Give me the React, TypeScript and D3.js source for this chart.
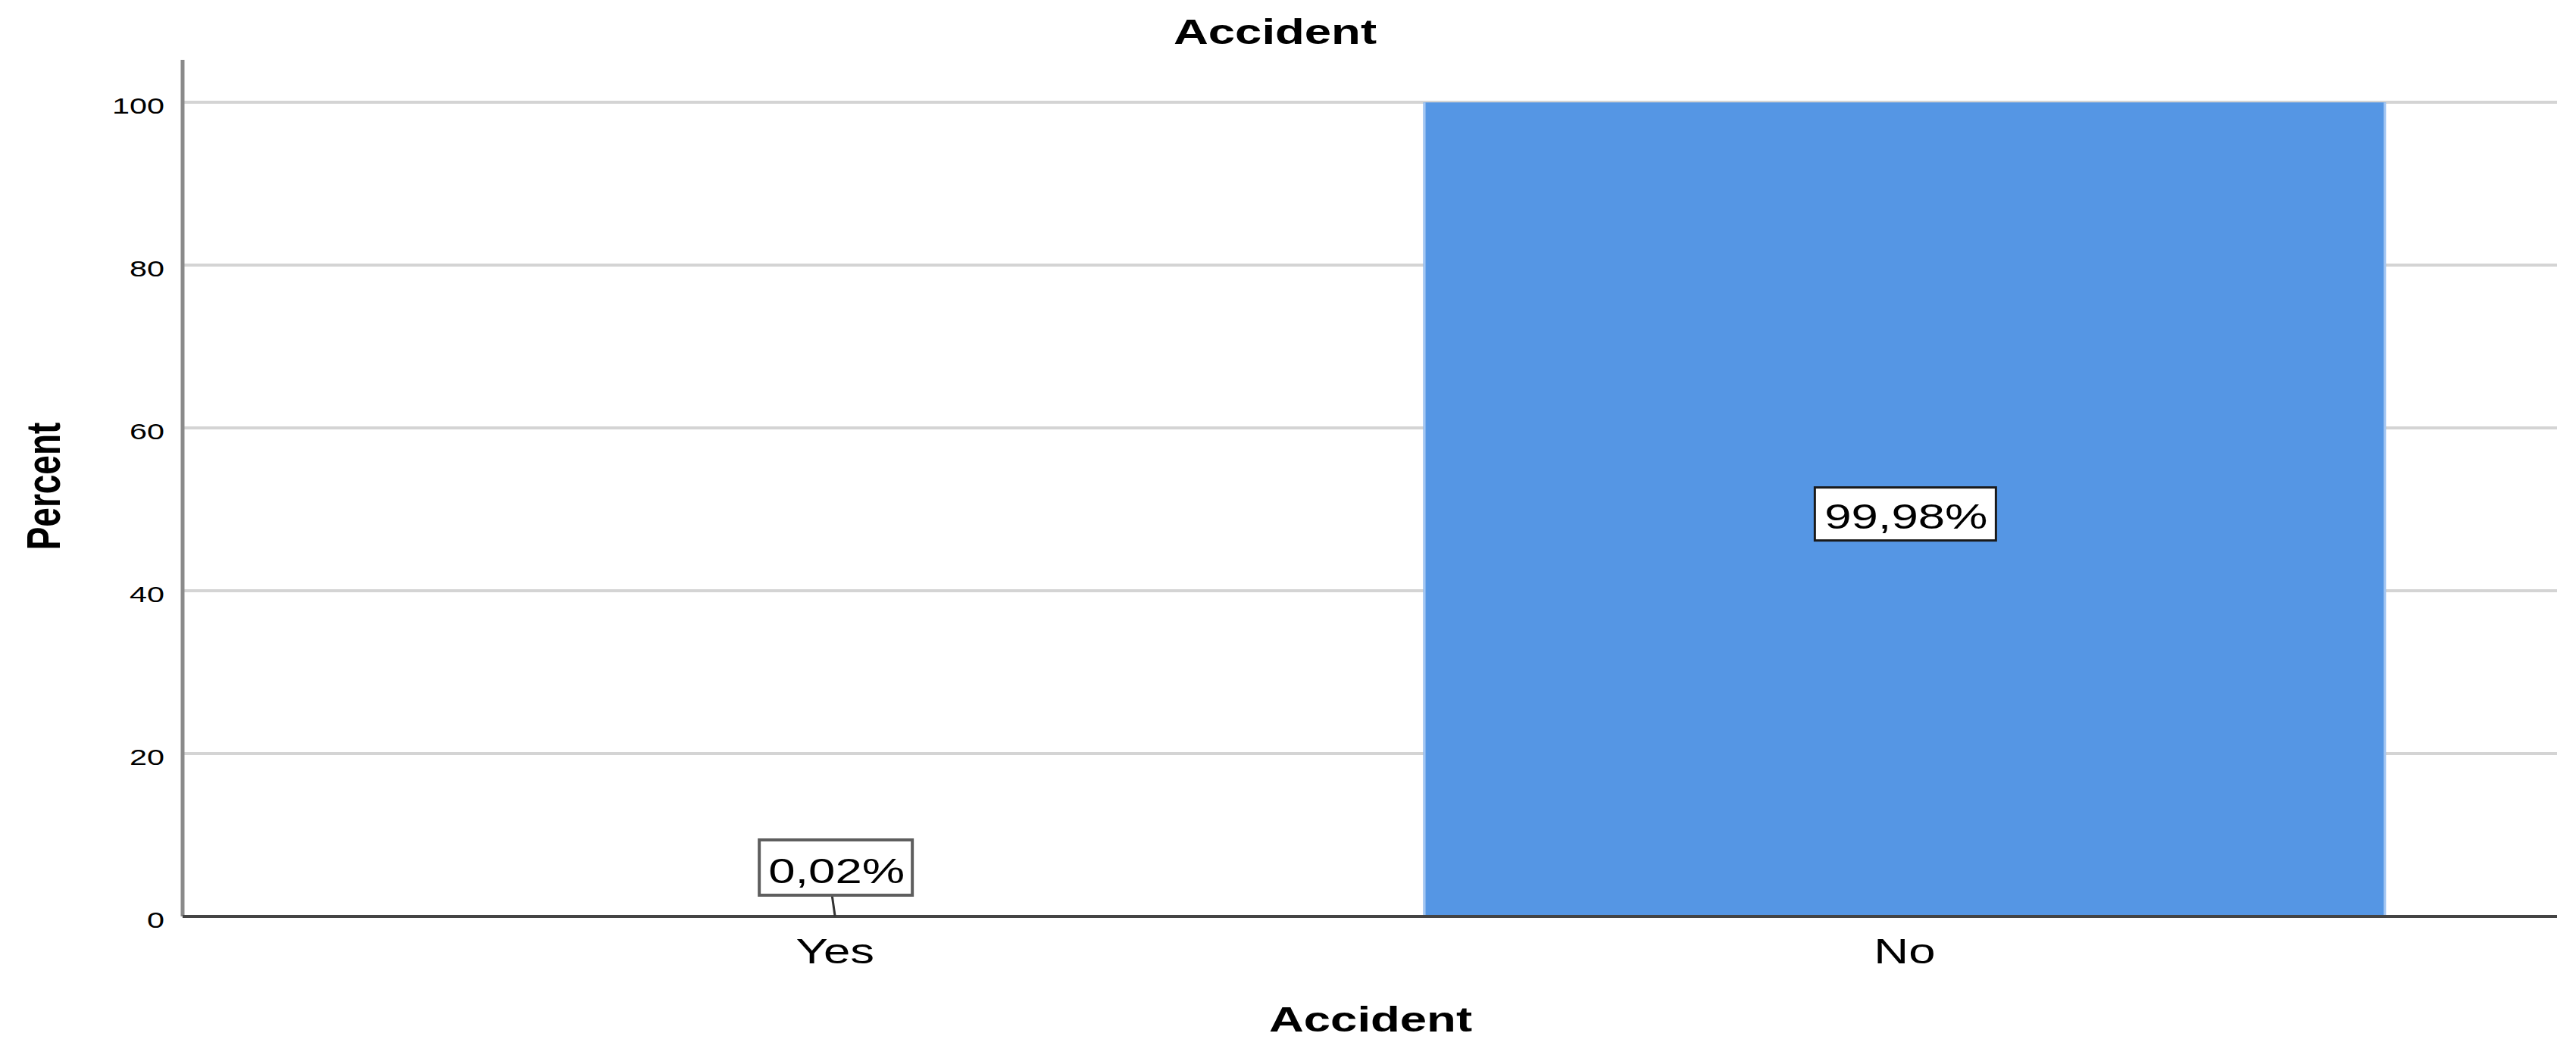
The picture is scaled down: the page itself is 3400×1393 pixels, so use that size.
import * as d3 from "d3";

const categories = ["Yes", "No"];
const percents = [0.02, 99.98];
const valueLabels = ["0,02%", "99,98%"];
const yTicks = [0, 20, 40, 60, 80, 100];
const chartTitle = "Accident";
const xTitle = "Accident";
const yTitle = "Percent";

const width = 3400;
const height = 1393;
const axisX = 241;
const axisRight = 3375;
const axisTop = 79;
const font = "'Liberation Sans', Arial, sans-serif";
// the source picture is stretched sideways, so text is too
const sx = 1.38;

const x = d3
  .scaleBand<string>()
  .domain(categories)
  .range([axisX, axisRight])
  .paddingInner(0.1)
  .paddingOuter(0.16);

const y = d3.scaleLinear().domain([0, 100]).range([1210, 135]);

const Stretched = ({ x, y, size, bold, anchor, children }: any) => (
  <text
    transform={`translate(${x},${y}) scale(${sx},1)`}
    fontSize={size}
    fontWeight={bold ? "bold" : "normal"}
    textAnchor={anchor ?? "middle"}
    fontFamily={font}
    fill="#000"
  >
    {children}
  </text>
);

export default function App() {
  const bw = x.bandwidth();
  return (
    <svg
      width={width}
      height={height}
      viewBox={`0 0 ${width} ${height}`}
      style={{ position: "absolute", left: 0, top: 0, background: "#fff" }}
    >
      <rect width={width} height={height} fill="#fff" />
      <Stretched x={1683} y={58} size={46} bold>
        {chartTitle}
      </Stretched>

      {/* grid */}
      <g stroke="#d4d4d4" strokeWidth={4}>
        {yTicks
          .filter((t) => t > 0)
          .map((t) => (
            <line key={t} x1={axisX} x2={axisRight} y1={y(t)} y2={y(t)} />
          ))}
      </g>

      {/* bars */}
      {categories.map((c, i) => {
        const x0 = x(c) ?? 0;
        return (
          <g key={c}>
            <rect
              x={x0}
              width={bw}
              y={y(percents[i])}
              height={y(0) - y(percents[i])}
              fill="#5596e4"
            />
            {percents[i] > 1 && (
              <g stroke="#a3c6f2" strokeWidth={3}>
                <line x1={x0 + 1.5} x2={x0 + 1.5} y1={y(percents[i])} y2={y(0)} />
                <line x1={x0 + bw - 1.5} x2={x0 + bw - 1.5} y1={y(percents[i])} y2={y(0)} />
              </g>
            )}
          </g>
        );
      })}

      {/* axes */}
      <line x1={axisX} x2={axisX} y1={axisTop} y2={y(0)} stroke="#8a8a8a" strokeWidth={5} />
      <line x1={axisX} x2={axisRight} y1={y(0)} y2={y(0)} stroke="#444" strokeWidth={4} />
      {yTicks.map((t) => (
        <Stretched key={t} x={217} y={y(t) + 15} size={30} anchor="end">
          {t}
        </Stretched>
      ))}
      {categories.map((c) => (
        <Stretched key={c} x={(x(c) ?? 0) + bw / 2} y={1272} size={46}>
          {c}
        </Stretched>
      ))}
      <Stretched x={1809} y={1362} size={46} bold>
        {xTitle}
      </Stretched>
      <text
        transform={`translate(79,642) scale(${sx},1) rotate(-90)`}
        fontSize={46}
        fontWeight="bold"
        textAnchor="middle"
        fontFamily={font}
      >
        {yTitle}
      </text>

      {/* value labels */}
      {categories.map((c, i) => {
        const cx = (x(c) ?? 0) + bw / 2;
        const inside = percents[i] > 10;
        const boxW = inside ? 239 : 202;
        const boxH = inside ? 70 : 73;
        const boxY = inside ? y(percents[i] / 2) - 29 : y(0) - 28 - boxH;
        return (
          <g key={c}>
            {!inside && (
              <line
                x1={cx - 4}
                y1={boxY + boxH}
                x2={cx}
                y2={y(0)}
                stroke="#333"
                strokeWidth={3}
              />
            )}
            <rect
              x={cx - boxW / 2 + 1}
              y={boxY}
              width={boxW}
              height={boxH}
              fill="#fff"
              stroke={inside ? "#1a1a1a" : "#5e5e5e"}
              strokeWidth={inside ? 3 : 4}
            />
            <Stretched x={cx + 2} y={boxY + boxH - 16} size={46}>
              {valueLabels[i]}
            </Stretched>
          </g>
        );
      })}
    </svg>
  );
}
